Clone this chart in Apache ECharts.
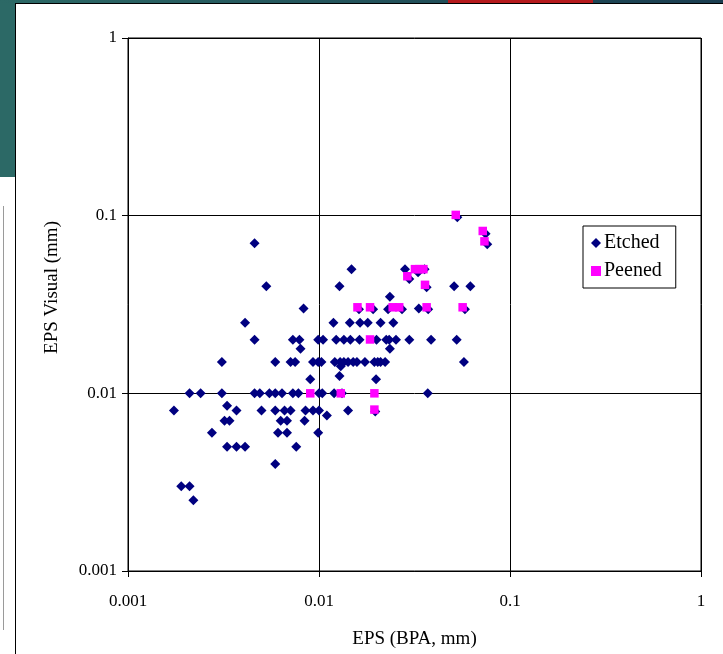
<!DOCTYPE html>
<html>
<head>
<meta charset="utf-8">
<script src="https://cdn.jsdelivr.net/npm/echarts@6/dist/echarts.min.js"></script>
<style>
  html, body { margin: 0; padding: 0; background: #fff; }
  #wrap { position: relative; width: 723px; height: 654px; overflow: hidden; background: #fff; }
  .deco { position: absolute; }
  #chart { position: absolute; left: 0; top: 0; width: 723px; height: 654px; }
</style>
</head>
<body>
<div id="wrap">
  <div class="deco" style="left:0;top:0;width:16px;height:177px;background:#2c6966;"></div>
  <div class="deco" style="left:0;top:0;width:723px;height:3px;background:linear-gradient(90deg,#2c6966,#1a3d50);"></div>
  <div class="deco" style="left:448px;top:0;width:145px;height:3px;background:#b51a1c;"></div>
  <div class="deco" style="left:15px;top:3px;width:708px;height:1px;background:#000;"></div>
  <div class="deco" style="left:15px;top:3px;width:1px;height:651px;background:#000;"></div>
  <div class="deco" style="left:3px;top:206px;width:1px;height:424px;background:#9a9a9a;"></div>
  <div id="chart"></div>
</div>
<script>
// ---- data ----
const xTickLabels = ['0.001', '0.01', '0.1', '1'];
const yTickLabels = ['0.001', '0.01', '0.1', '1'];
const xAxisTitle = 'EPS (BPA, mm)';
const yAxisTitle = 'EPS Visual (mm)';
const seriesNames = ['Etched', 'Peened'];

const etchedX = [
  0.0046, 0.053, 0.0745, 0.076,
  0.0148, 0.0282, 0.033, 0.0357, 0.0297,
  0.0053, 0.0128, 0.0366, 0.051, 0.062, 0.0235,
  0.0083, 0.0162, 0.0192, 0.023, 0.0272, 0.0333, 0.0373, 0.0581,
  0.0041, 0.0119, 0.0145, 0.0164, 0.018, 0.021, 0.0245,
  0.0046, 0.0073, 0.0079, 0.0099, 0.0105, 0.0123, 0.0135, 0.0146, 0.0163, 0.02, 0.0225, 0.0233, 0.0253, 0.0297, 0.0386, 0.0526,
  0.008, 0.0235,
  0.0031, 0.0059, 0.0071, 0.0075, 0.0093, 0.0099, 0.0103, 0.0121, 0.0129, 0.0135, 0.0142, 0.0151, 0.0158, 0.0174, 0.0195, 0.0203, 0.021, 0.0222, 0.0574,
  0.013, 0.0128, 0.009, 0.0199,
  0.0021, 0.0024, 0.0031, 0.0046, 0.0049, 0.0055, 0.0059, 0.0064, 0.0073, 0.0078, 0.01, 0.0104, 0.012, 0.0132, 0.0371,
  0.0033,
  0.00174, 0.0037, 0.005, 0.0059, 0.0066, 0.0071, 0.0085, 0.0093, 0.01, 0.0142, 0.0197,
  0.011,
  0.0032, 0.0034, 0.0063, 0.0068, 0.0084,
  0.00275, 0.0061, 0.0068, 0.0099,
  0.0033, 0.0037, 0.0041, 0.0076,
  0.0059,
  0.0019, 0.0021,
  0.0022
];
const etchedY = [
  0.07, 0.098, 0.079, 0.069,
  0.05, 0.05, 0.048, 0.05, 0.044,
  0.04, 0.04, 0.0396, 0.04, 0.04, 0.035,
  0.03, 0.0297, 0.0297, 0.0297, 0.0297, 0.03, 0.0297, 0.0297,
  0.025, 0.025, 0.025, 0.025, 0.025, 0.025, 0.025,
  0.02, 0.02, 0.02, 0.02, 0.02, 0.02, 0.02, 0.02, 0.02, 0.02, 0.02, 0.02, 0.02, 0.02, 0.02, 0.02,
  0.0178, 0.0178,
  0.015, 0.015, 0.015, 0.015, 0.015, 0.015, 0.015, 0.015, 0.015, 0.015, 0.015, 0.015, 0.015, 0.015, 0.015, 0.015, 0.015, 0.015, 0.015,
  0.0142, 0.0125, 0.012, 0.012,
  0.01, 0.01, 0.01, 0.01, 0.01, 0.01, 0.01, 0.01, 0.01, 0.01, 0.01, 0.01, 0.01, 0.01, 0.01,
  0.0085,
  0.008, 0.008, 0.008, 0.008, 0.008, 0.008, 0.008, 0.008, 0.008, 0.008, 0.0079,
  0.0075,
  0.007, 0.007, 0.007, 0.007, 0.007,
  0.006, 0.006, 0.006, 0.006,
  0.005, 0.005, 0.005, 0.005,
  0.004,
  0.003, 0.003,
  0.0025
];
const peenedX = [0.052, 0.072, 0.0735, 0.0318, 0.0335, 0.0352, 0.029, 0.0359,
  0.0159, 0.0185, 0.0243, 0.0263, 0.0366, 0.0565, 0.0185, 0.009, 0.013, 0.0195, 0.0195];
const peenedY = [0.101, 0.082, 0.0717, 0.05, 0.05, 0.05, 0.0456, 0.0408,
  0.0305, 0.0305, 0.0305, 0.0305, 0.0305, 0.0305, 0.0201, 0.01, 0.01, 0.01, 0.0081];

// ---- chart ----
const zip = (xs, ys) => xs.map((x, i) => [x, ys[i]]);
const pickLabel = (labels) => (v) => {
  let best = labels[0], bd = Infinity;
  labels.forEach(l => { const d = Math.abs(Math.log10(Number(l)) - Math.log10(v)); if (d < bd) { bd = d; best = l; } });
  return best;
};
const FONT = '"Liberation Serif", "Times New Roman", serif';

const chart = echarts.init(document.getElementById('chart'), null, { renderer: 'canvas' });
chart.setOption({
  animation: false,
  backgroundColor: 'transparent',
  grid: {
    left: 128, top: 38, right: 22, bottom: 82,
    show: true, backgroundColor: '#fff', borderColor: '#000', borderWidth: 1
  },
  legend: {
    orient: 'vertical',
    left: 583, top: 226,
    padding: [7, 14, 7, 8],
    itemGap: 8,
    itemWidth: 10, itemHeight: 10,
    backgroundColor: '#fff',
    borderColor: '#000', borderWidth: 1, borderRadius: 0,
    selectedMode: false,
    textStyle: { fontFamily: FONT, fontSize: 20, color: '#000', padding: [0, 0, 0, -2] },
    data: [
      { name: seriesNames[0], icon: 'diamond' },
      { name: seriesNames[1], icon: 'rect' }
    ]
  },
  xAxis: {
    type: 'log', logBase: 10, min: 0.001, max: 1,
    name: xAxisTitle, nameLocation: 'middle', nameGap: 59,
    nameTextStyle: { fontFamily: FONT, fontSize: 19, color: '#000' },
    axisLine: { show: true, onZero: false, lineStyle: { color: '#000', width: 1 } },
    axisTick: { show: true, length: 6, lineStyle: { color: '#000' } },
    minorTick: { show: false },
    splitLine: { show: true, lineStyle: { color: '#000', width: 1 } },
    axisLabel: { fontFamily: FONT, fontSize: 17, color: '#000', margin: 22, formatter: pickLabel(xTickLabels) }
  },
  yAxis: {
    type: 'log', logBase: 10, min: 0.001, max: 1,
    name: yAxisTitle, nameLocation: 'middle', nameGap: 66,
    nameTextStyle: { fontFamily: FONT, fontSize: 19, color: '#000', padding: [0, 0, 0, 34] },
    axisLine: { show: true, onZero: false, lineStyle: { color: '#000', width: 1 } },
    axisTick: { show: true, length: 6, lineStyle: { color: '#000' } },
    minorTick: { show: false },
    splitLine: { show: true, lineStyle: { color: '#000', width: 1 } },
    axisLabel: { fontFamily: FONT, fontSize: 17, color: '#000', margin: 11, formatter: pickLabel(yTickLabels) }
  },
  series: [
    {
      name: seriesNames[0], type: 'scatter', symbol: 'diamond', symbolSize: 10,
      itemStyle: { color: '#000080', opacity: 1 },
      data: zip(etchedX, etchedY)
    },
    {
      name: seriesNames[1], type: 'scatter', symbol: 'rect', symbolSize: 8.5,
      itemStyle: { color: '#ff00ff', opacity: 1 },
      data: zip(peenedX, peenedY)
    }
  ]
});
</script>
</body>
</html>
